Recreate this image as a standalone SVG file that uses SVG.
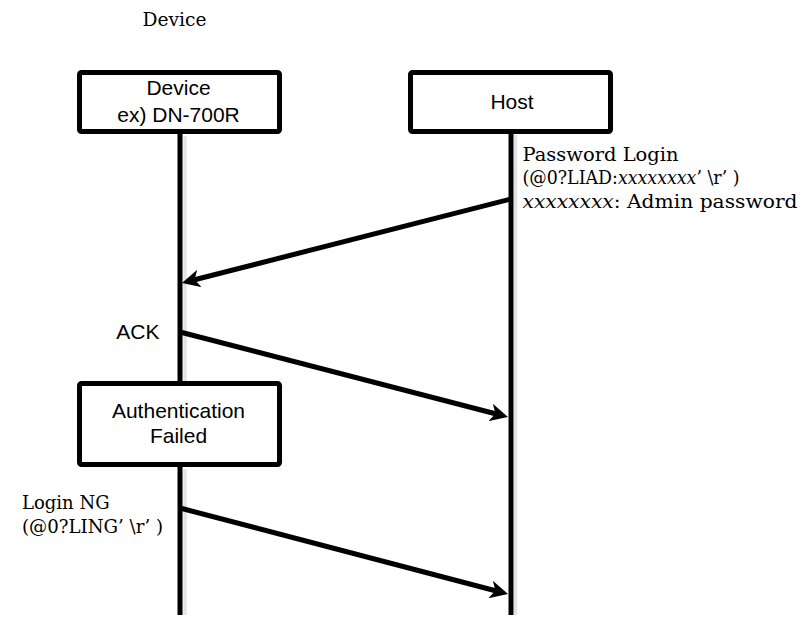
<svg xmlns="http://www.w3.org/2000/svg" width="805" height="617" viewBox="0 0 805 617">
<style>
.box{fill:#fff;stroke:#000;stroke-width:5;stroke-linejoin:round}
.life{stroke:#000;stroke-width:5;fill:none}
.shadow{stroke:#e3e3e3;stroke-width:3.5;fill:none}
.msg{stroke:#000;stroke-width:5;fill:none}
.sans{font-family:"Liberation Sans",Arial,sans-serif;font-size:21px;fill:#000}
.serif{font-family:"DejaVu Serif","Liberation Serif",serif;font-size:18px;fill:#000}
.it{font-style:italic}
</style>
<defs>
<marker id="ah" markerUnits="userSpaceOnUse" markerWidth="18" markerHeight="18" viewBox="0 0 18 18" refX="6" refY="9" orient="auto">
<path d="M0,0 L18,9 L0,18 L5,9 Z" fill="#000"/>
</marker>
</defs>
<rect width="805" height="617" fill="#fff"/>
<text class="serif" x="142.5" y="26" textLength="64" lengthAdjust="spacingAndGlyphs">Device</text>
<g id="lifelines">
<line class="shadow" x1="185" y1="136" x2="185" y2="381"/>
<line class="shadow" x1="185" y1="469" x2="185" y2="615"/>
<line class="shadow" x1="515.5" y1="135" x2="515.5" y2="615"/>
<line class="life" x1="180" y1="134" x2="180" y2="381"/>
<line class="life" x1="180" y1="467" x2="180" y2="615"/>
<line class="life" x1="511" y1="133" x2="511" y2="615"/>
</g>
<g id="node-device">
<rect class="box" x="79.5" y="72.5" width="200" height="59" rx="2"/>
<text class="sans" x="178.5" y="95" text-anchor="middle">Device</text>
<text class="sans" x="178.5" y="121.5" text-anchor="middle">ex) DN-700R</text>
</g>
<g id="node-host">
<rect class="box" x="410.5" y="72.5" width="200" height="59" rx="2"/>
<text class="sans" x="512" y="108.5" text-anchor="middle">Host</text>
</g>
<g id="node-auth">
<rect class="box" x="79.5" y="383.5" width="200" height="81" rx="2"/>
<text class="sans" x="178.5" y="417.5" text-anchor="middle">Authentication</text>
<text class="sans" x="178.5" y="442.5" text-anchor="middle">Failed</text>
</g>
<g id="connectors">
<line class="msg" x1="511" y1="199" x2="193.6" y2="280" marker-end="url(#ah)"/>
<line class="msg" x1="180" y1="332" x2="496.4" y2="414" marker-end="url(#ah)"/>
<line class="msg" x1="180" y1="508" x2="496.4" y2="591" marker-end="url(#ah)"/>
</g>
<g id="labels">
<text class="serif" x="522.5" y="160.5" textLength="156" lengthAdjust="spacingAndGlyphs">Password Login</text>
<text class="serif" x="522.5" y="183.5" textLength="217" lengthAdjust="spacingAndGlyphs">(@0?LIAD:<tspan class="it">xxxxxxxx</tspan>’ \r’ )</text>
<text class="serif" x="522.5" y="208" textLength="275" lengthAdjust="spacingAndGlyphs"><tspan class="it">xxxxxxxx</tspan>: Admin password</text>
<text class="sans" x="159.5" y="338.5" text-anchor="end">ACK</text>
<text class="serif" x="22" y="509">Login NG</text>
<text class="serif" x="22" y="533" textLength="141" lengthAdjust="spacingAndGlyphs">(@0?LING’ \r’ )</text>
</g>
</svg>
